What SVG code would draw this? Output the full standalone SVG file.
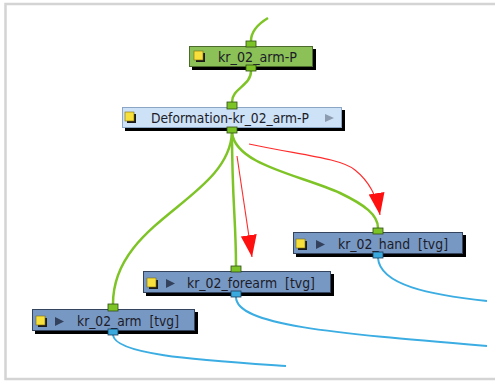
<svg xmlns="http://www.w3.org/2000/svg" width="495" height="381" viewBox="0 0 495 381">
<style>
.frame{fill:none;stroke:#d4d4d4;stroke-width:2.5}
.shadow{fill:#000}
.grn{fill:#8bc157;stroke:#4d6b2c;stroke-width:1}
.def{fill:#cde2f7;stroke:#8ba5c4;stroke-width:1}
.tvg{fill:#7898c4;stroke:#34435e;stroke-width:1}
.lbl{font-family:"DejaVu Sans",Verdana,sans-serif;font-size:14px;fill:#1c1c28}
.ysh{fill:#1a1a1a}
.yel{fill:#f7e03c;stroke:#7a6a10;stroke-width:0.6}
.play{fill:#33415c}
.playl{fill:#8d9bb0}
.pg{fill:#7cc425;stroke:#2f4a14;stroke-width:0.8}
.pb{fill:#3aa9de;stroke:#1d3d5a;stroke-width:0.8}
.cg{fill:none;stroke:#7ec426;stroke-width:2.5}
.cb{fill:none;stroke:#3badE2;stroke-width:2}
.cr{fill:none;stroke:#ff2a2a;stroke-width:1.1}
</style>
<defs>
<marker id="ah" markerUnits="userSpaceOnUse" markerWidth="24" markerHeight="18" refX="22" refY="8" orient="auto">
<path d="M0,0 L22,8 L0,16 z" fill="#ff1010"/>
</marker>
</defs>
<rect x="0" y="0" width="495" height="381" fill="#ffffff"/>
<rect class="frame" x="5.5" y="4" width="500" height="375"/>

<g id="connectors">
<path class="cg" d="M268,18 C258,24 251,32 251,41"/>
<path class="cg" d="M251,71 C251,86 232,88 232,102"/>
<path class="cg" d="M232,133 C228,200 113,220 113,304"/>
<path class="cg" d="M232,133 C232,200 236,220 236,266"/>
<path class="cg" d="M232,133 C236,165 300,175 340,193 C365,205 378,215 378,228"/>
<path class="cb" d="M378,258 C380,285 430,295 487,301"/>
<path class="cb" d="M236,297 C236,325 330,333 487,346"/>
<path class="cb" d="M113,335 C115,355 200,360 286,366"/>
<path class="cr" d="M249,144 C300,155 340,158 355,170 C370,182 377,196 380,215" marker-end="url(#ah)"/>
<path class="cr" d="M237,156 L252,257" marker-end="url(#ah)"/>
</g>

<g id="node-arm-P">
<rect class="shadow" x="192" y="49" width="124" height="21"/>
<rect class="grn" x="189.5" y="46.5" width="123" height="20"/>
<rect class="ysh" x="196" y="53" width="9" height="9"/>
<rect class="yel" x="194" y="51" width="9" height="9"/>
<text class="lbl" x="218" y="62" textLength="79" lengthAdjust="spacingAndGlyphs">kr_02_arm-P</text>
<rect class="pg" x="246" y="41" width="10" height="6"/>
<rect class="pg" x="246" y="65" width="10" height="6"/>
</g>

<g id="node-deformation">
<rect class="shadow" x="125" y="110" width="220" height="21"/>
<rect class="def" x="122.5" y="107.5" width="219" height="20"/>
<rect class="ysh" x="127" y="114" width="9" height="9"/>
<rect class="yel" x="125" y="112" width="9" height="9"/>
<text class="lbl" x="151" y="123" textLength="158" lengthAdjust="spacingAndGlyphs">Deformation-kr_02_arm-P</text>
<path class="playl" d="M325,114 L334,118 L325,122 z"/>
<rect class="pg" x="227" y="102" width="10" height="7"/>
<rect class="pg" x="227" y="127" width="10" height="6"/>
</g>

<g id="node-hand">
<rect class="shadow" x="296" y="235" width="170" height="22"/>
<rect class="tvg" x="293.5" y="232.5" width="169" height="21"/>
<rect class="ysh" x="298" y="241" width="9" height="9"/>
<rect class="yel" x="296" y="239" width="9" height="9"/>
<path class="play" d="M316,240 L325,244.5 L316,249 z"/>
<text class="lbl" x="338" y="249" textLength="110" lengthAdjust="spacingAndGlyphs">kr_02_hand&#160;&#160;[tvg]</text>
<rect class="pg" x="373" y="228" width="10" height="6"/>
<rect class="pb" x="373" y="252" width="10" height="6"/>
</g>

<g id="node-forearm">
<rect class="shadow" x="146" y="274" width="188" height="22"/>
<rect class="tvg" x="143.5" y="271.5" width="187" height="21"/>
<rect class="ysh" x="149" y="280" width="9" height="9"/>
<rect class="yel" x="147" y="278" width="9" height="9"/>
<path class="play" d="M166,279 L175,283.5 L166,288 z"/>
<text class="lbl" x="187" y="288" textLength="128" lengthAdjust="spacingAndGlyphs">kr_02_forearm&#160;&#160;[tvg]</text>
<rect class="pg" x="231" y="266" width="10" height="6"/>
<rect class="pb" x="231" y="291" width="10" height="6"/>
</g>

<g id="node-arm">
<rect class="shadow" x="35" y="312" width="163" height="22"/>
<rect class="tvg" x="32.5" y="309.5" width="162" height="21"/>
<rect class="ysh" x="38" y="318" width="9" height="9"/>
<rect class="yel" x="36" y="316" width="9" height="9"/>
<path class="play" d="M55,317 L64,321.5 L55,326 z"/>
<text class="lbl" x="77" y="326" textLength="102" lengthAdjust="spacingAndGlyphs">kr_02_arm&#160;&#160;[tvg]</text>
<rect class="pg" x="108" y="304" width="10" height="7"/>
<rect class="pb" x="108" y="329" width="10" height="6"/>
</g>
</svg>
